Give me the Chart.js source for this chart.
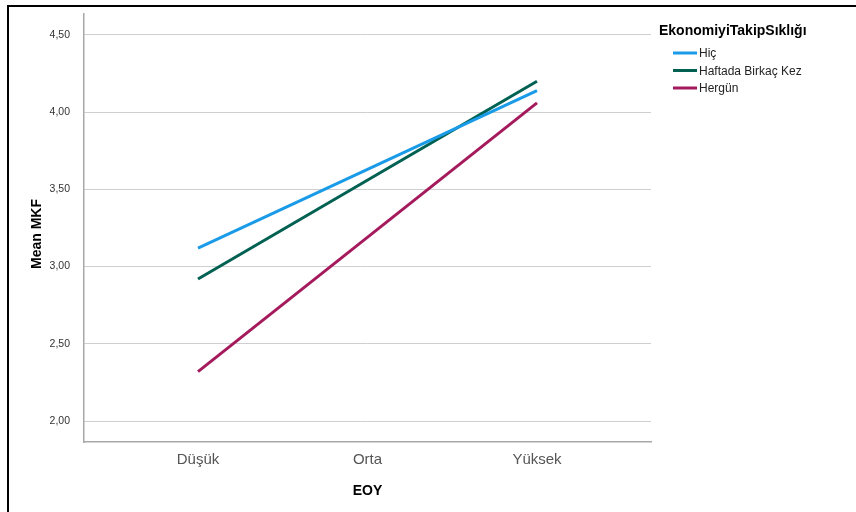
<!DOCTYPE html>
<html>
<head>
<meta charset="utf-8">
<script src="https://cdn.jsdelivr.net/npm/chart.js@4.4.1/dist/chart.umd.min.js"></script>
<style>
    body { margin: 0; background: #fff; overflow: hidden; }
    #frame { position: absolute; left: 7px; top: 5px; width: 860px; height: 520px; border-left: 2px solid #000; border-top: 2px solid #000; }
    #wrap { position: absolute; left: 0; top: 0; width: 856px; height: 512px; }
</style>
</head>
<body>
<div id="frame"></div>
<div id="wrap"><canvas id="myChart" width="856" height="512"></canvas></div>
<script>
// EOY groups on the x axis
const categories = ['Düşük', 'Orta', 'Yüksek'];
const seriesNames = ['Hiç', 'Haftada Birkaç Kez', 'Hergün'];
// mean MKF per group (no value shown for Orta)
const hicValues = [3.12, null, 4.14];
const haftadaValues = [2.92, null, 4.20];
const herGunValues = [2.32, null, 4.06];
const yTicks = [2.00, 2.50, 3.00, 3.50, 4.00, 4.50];
const seriesColors = ['#1a9be8', '#006152', '#a51a5c'];

function toPoints(values) {
    return values.map(function (v, i) { return { x: i, y: v }; });
}

// SPSS style legend on the right and the y axis title
const legendPlugin = {
    id: 'spssLegend',
    afterDraw: function (chart) {
        const c = chart.ctx;
        c.save();
        c.fillStyle = '#000';
        c.font = 'bold 14px "Liberation Sans", Arial, sans-serif';
        c.textBaseline = 'middle';
        c.fillText('EkonomiyiTakipSıklığı', 659, 31);
        c.font = '12px "Liberation Sans", Arial, sans-serif';
        chart.data.datasets.forEach(function (ds, i) {
            const y = 53 + i * 17.5;
            c.strokeStyle = ds.borderColor;
            c.lineWidth = 3;
            c.beginPath();
            c.moveTo(673, y);
            c.lineTo(697, y);
            c.stroke();
            c.fillStyle = '#222';
            c.fillText(ds.label, 699, y + 1);
        });

        c.translate(37, 234);
        c.rotate(-Math.PI / 2);
        c.textAlign = 'center';
        c.fillStyle = '#000';
        c.font = 'bold 14px "Liberation Sans", Arial, sans-serif';
        c.fillText('Mean MKF', 0, 0);
        c.restore();
    }
};

const ctx = document.getElementById('myChart').getContext('2d');
new Chart(ctx, {
    type: 'line',
    data: {
        datasets: [
            { label: seriesNames[0], data: toPoints(hicValues), borderColor: seriesColors[0] },
            { label: seriesNames[1], data: toPoints(haftadaValues), borderColor: seriesColors[1] },
            { label: seriesNames[2], data: toPoints(herGunValues), borderColor: seriesColors[2] }
        ]
    },
    options: {
        responsive: false,
        animation: false,
        spanGaps: true,
        elements: {
            line: { borderWidth: 3, tension: 0, borderCapStyle: 'butt' },
            point: { radius: 0 }
        },
        layout: { padding: { left: 16, right: 205, top: 14, bottom: 0 } },
        plugins: {
            legend: { display: false },
            tooltip: { enabled: false }
        },
        scales: {
            x: {
                type: 'linear',
                min: -0.6726,
                max: 2.6726,
                afterBuildTicks: function (scale) {
                    scale.ticks = categories.map(function (c, i) { return { value: i }; });
                },
                afterFit: function (scale) {
                    scale.height = 70;
                    scale.paddingLeft = 0;
                    scale.paddingRight = 0;
                },
                grid: { color: 'rgba(0,0,0,0)', drawTicks: false },
                border: { display: true, color: '#a8a8a8', width: 1.5 },
                ticks: {
                    padding: 9,
                    color: '#555',
                    font: { family: '"Liberation Sans", Arial, sans-serif', size: 15 },
                    callback: function (v) { return categories[v]; }
                },
                title: {
                    display: true,
                    text: 'EOY',
                    color: '#000',
                    padding: { top: 3, bottom: 12 },
                    font: { family: '"Liberation Sans", Arial, sans-serif', size: 14, weight: 'bold' }
                }
            },
            y: {
                min: 1.864,
                max: 4.636,
                afterBuildTicks: function (scale) {
                    scale.ticks = yTicks.map(function (v) { return { value: v }; });
                },
                afterFit: function (scale) {
                    scale.width = 68;
                    scale.paddingTop = 0;
                    scale.paddingBottom = 0;
                },
                grid: { color: '#cfcfcf', lineWidth: 1, drawTicks: false },
                border: { display: true, color: '#a8a8a8', width: 1.5 },
                ticks: {
                    padding: 14,
                    color: '#333',
                    font: { family: '"Liberation Sans", Arial, sans-serif', size: 10.5 },
                    callback: function (v) { return v.toFixed(2).replace('.', ','); }
                }
            }
        }
    },
    plugins: [legendPlugin]
});
</script>
</body>
</html>
